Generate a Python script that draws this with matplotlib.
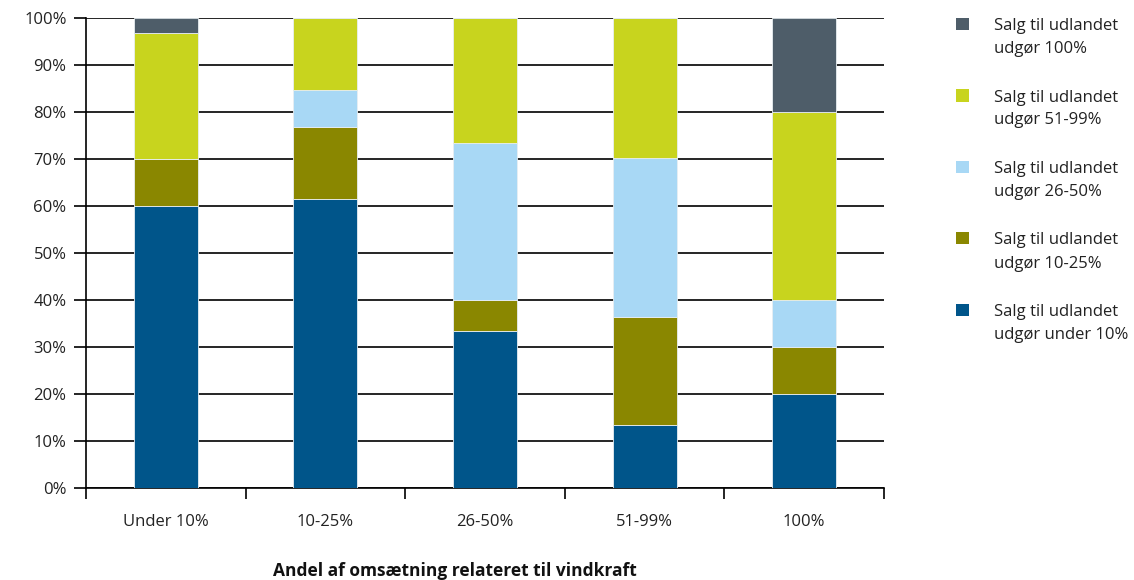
import numpy as np
import matplotlib
matplotlib.use('Agg')
import matplotlib.pyplot as plt
from matplotlib.patches import Rectangle

plt.rcParams['font.family'] = ['Open Sans', 'DejaVu Sans']

categories = ['Under 10%', '10-25%', '26-50%', '51-99%', '100%']
series_labels = ['Salg til udlandet\nudgør under 10%',
                 'Salg til udlandet\nudgør 10-25%',
                 'Salg til udlandet\nudgør 26-50%',
                 'Salg til udlandet\nudgør 51-99%',
                 'Salg til udlandet\nudgør 100%']
under10 = [60.0, 61.5, 33.3, 13.4, 20.0]
p10_25 = [10.0, 15.4, 6.7, 23.0, 10.0]
p26_50 = [0.0, 7.7, 33.3, 33.8, 10.0]
p51_99 = [26.8, 15.4, 26.7, 29.8, 40.0]
p100 = [3.2, 0.0, 0.0, 0.0, 20.0]
colors = ['#00558a', '#8a8700', '#a8d8f5', '#c8d41e', '#4e5d69']

series = [under10, p10_25, p26_50, p51_99, p100]

W, H = 1134, 580
fig = plt.figure(figsize=(W / 100, H / 100), dpi=100)
ax = fig.add_axes([86/W, 92/H, 798/W, 470/H])

x = np.arange(len(categories))
bottom = np.zeros(len(categories))
for vals, col in zip(series, colors):
    ax.bar(x, vals, width=0.4, bottom=bottom, color=col, edgecolor='#e8eef2', linewidth=0.6, zorder=3)
    bottom += np.array(vals)

ax.set_xlim(-0.5, len(categories) - 0.5)
ax.set_ylim(0, 100)
ax.set_yticks(np.arange(0, 101, 10))
ax.set_yticklabels([f'{v}%' for v in range(0, 101, 10)], fontsize=12, color='#222222')
ax.yaxis.grid(True, color='black', linewidth=1.2, zorder=0)
ax.tick_params(axis='y', length=9, width=1.2, pad=5)

ax.set_xticks(x)
ax.set_xticklabels(categories, fontsize=12, color='#222222')
ax.tick_params(axis='x', length=0, pad=19)
ax.set_xticks(np.arange(-0.5, len(categories), 1), minor=True)
ax.tick_params(axis='x', which='minor', length=8, width=1.2)

for s in ['top', 'right']:
    ax.spines[s].set_visible(False)
ax.spines['left'].set_linewidth(1.2)
ax.spines['bottom'].set_linewidth(1.2)

fig.text(455/W, 1 - 571/H, 'Andel af omsætning relateret til vindkraft', fontsize=12.5,
         fontweight='bold', ha='center', va='center', color='#111111')

# legend, drawn by hand (top entry = last series)
for i, (lab, col) in enumerate(zip(series_labels[::-1], colors[::-1])):
    base = 30 + 71.5 * i
    fig.patches.append(Rectangle((956/W, 1 - (base)/H), 13/W, 12/H, transform=fig.transFigure,
                                 facecolor=col, edgecolor='none'))
    l1, l2 = lab.split('\n')
    fig.text(994/W, 1 - base/H, l1, fontsize=12, va='baseline', ha='left', color='#222222')
    fig.text(994/W, 1 - (base + 23)/H, l2, fontsize=12, va='baseline', ha='left', color='#222222')

fig.savefig('out.png', dpi=100)
